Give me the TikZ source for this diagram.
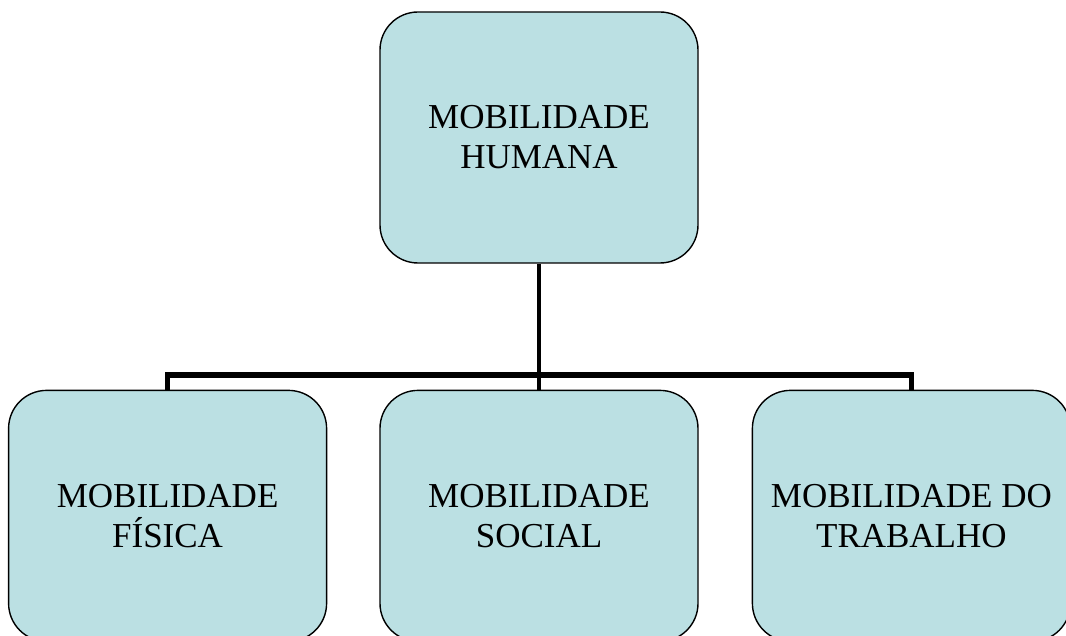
\documentclass[tikz,border=0pt]{standalone}
\usepackage{fontspec}
\setmainfont{Liberation Serif}
\usetikzlibrary{positioning}
\usetikzlibrary{calc}
\definecolor{boxfill}{RGB}{187,224,227}
\tikzstyle{mobbox}=[draw,line width=1.4pt,fill=boxfill,rounded corners=38pt,minimum width=318pt,minimum height=251pt,align=center,font=\fontsize{35}{40}\selectfont]
\tikzstyle{drop}=[line width=4.5pt]
\tikzstyle{bar}=[line width=6pt,line cap=rect]

\begin{document}
\begin{tikzpicture}[x=1pt,y=1pt]
  \useasboundingbox (0,0) rectangle (1066,636);
  \clip (0,0) rectangle (1066,636);
  \node[mobbox] (hum) at (539,498.5) {MOBILIDADE\\HUMANA};
  \node[mobbox,below=126pt of hum] (soc) {MOBILIDADE\\SOCIAL};
  \node[mobbox,left=52pt of soc] (fis) {MOBILIDADE\\FÍSICA};
  \node[mobbox,right=53pt of soc] (trab) {MOBILIDADE DO\\TRABALHO};
  % connectors
  \coordinate (barl) at ($(fis.north)+(0,15)$);
  \coordinate (barr) at ($(trab.north)+(0,15)$);
  \draw[drop] (hum.south) -- (soc.north);
  \draw[drop] (fis.north) -- (barl);
  \draw[drop] (trab.north) -- (barr);
  \draw[bar] (barl) -- (barr);
\end{tikzpicture}
\end{document}
